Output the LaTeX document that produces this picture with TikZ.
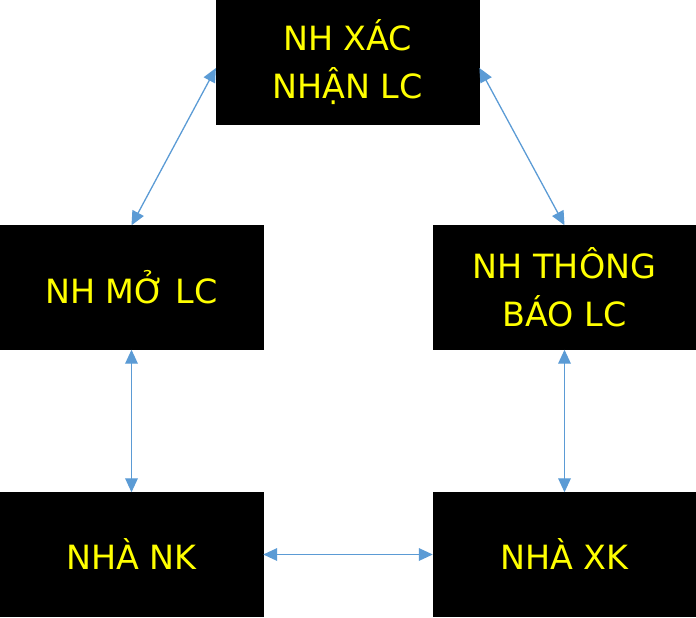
\documentclass[tikz,border=0pt]{standalone}
\usepackage{fontspec}
\setmainfont{DejaVu Sans}
\usetikzlibrary{arrows.meta}
\definecolor{linkblue}{HTML}{5B9BD5}
\definecolor{labelyellow}{HTML}{FFFF00}

\begin{document}
\begin{tikzpicture}[
  bank/.style={fill=black, draw=black, minimum width=7.89cm, minimum height=3.72cm,
    inner sep=0pt, align=center, text=labelyellow, font=\fontsize{28.5}{41}\selectfont},
  link/.style={linkblue, line width=1.1pt, {Triangle[length=0.42cm,width=0.38cm]}-{Triangle[length=0.42cm,width=0.38cm]}}
]

\useasboundingbox (0,0) rectangle (20.88,-18.51);

% banks
\node[bank] (nhxn) at (10.43,-1.86)  {NH XÁC\\NHẬN LC};
\node[bank] (nhmo) at (3.945,-8.625) {NH MỞ LC};
\node[bank] (nhtb) at (16.935,-8.625) {NH THÔNG\\BÁO LC};
% traders
\node[bank] (nhank) at (3.945,-16.635) {NHÀ NK};
\node[bank] (nhaxk) at (16.935,-16.635) {NHÀ XK};

\draw[link] ([yshift=-0.18cm]nhxn.west) -- (nhmo.north);
\draw[link] ([yshift=-0.18cm]nhxn.east) -- (nhtb.north);
\draw[link] (nhmo.south) -- (nhank.north);
\draw[link] (nhtb.south) -- (nhaxk.north);
\draw[link] (nhank.east) -- (nhaxk.west);

\end{tikzpicture}
\end{document}
